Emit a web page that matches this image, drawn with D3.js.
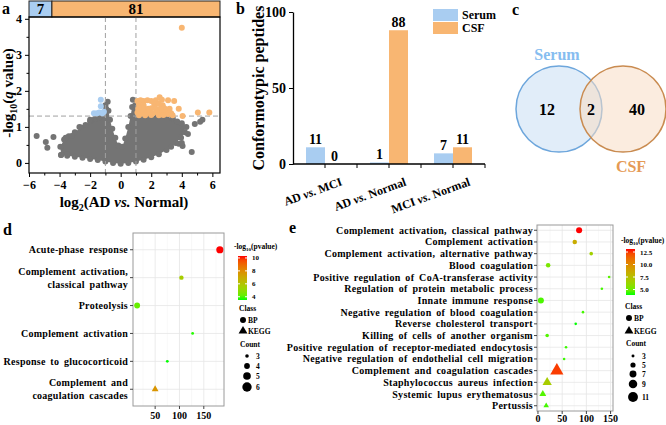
<!DOCTYPE html>
<html>
<head>
<meta charset="utf-8">
<script src="https://cdn.jsdelivr.net/npm/d3@7"></script>
<style>
body { margin: 0; background: #fff; }
svg { display: block; font-family: "Liberation Serif", "Times New Roman", serif; font-weight: bold; }
</style>
</head>
<body>
<script>
// ---------- panel a : volcano ----------
const volcCounts = [7, 81];
const volcSplit = -4.5;
// outline of the dense gray cloud of non-significant peptides
const cloudOutline = [
  [-3.9,0.22],[-3.95,0.45],[-3.7,0.65],[-3.4,0.74],[-3.0,0.85],[-2.6,0.98],[-2.3,1.05],[-2.0,1.15],
  [-1.7,1.22],[-1.4,1.27],[-1.15,1.33],[-0.95,1.5],[-0.8,1.45],[-0.7,1.2],[-0.55,0.95],[-0.35,0.7],
  [-0.15,0.48],[0.1,0.45],[0.3,0.68],[0.5,1.0],[0.65,1.3],[0.75,1.55],[0.95,1.6],[1.2,1.3],[1.8,1.3],
  [2.4,1.3],[3.0,1.28],[3.4,1.22],[3.7,1.15],[4.1,1.0],[4.2,0.85],[3.95,0.7],[3.6,0.55],[3.3,0.45],
  [3.0,0.36],[2.5,0.24],[2.0,0.16],[1.5,0.09],[1.0,0.04],[0.5,0.0],[0.0,-0.02],[-0.5,0.0],[-1.0,0.04],
  [-1.5,0.08],[-2.0,0.11],[-2.5,0.14],[-3.0,0.17],[-3.5,0.2]
];
const grayPts = [
  [-5.5,0.75],[-4.9,0.58],[-4.8,0.42],[-4.4,0.72],[-3.9,0.22],[-3.6,0.7],[-3.5,0.25],[-3.2,0.75],
  [-0.85,1.7],[-1.0,1.6],[0.8,1.75],[3.4,1.25],[4.0,1.1],[4.3,1.0],[4.85,1.08],[5.2,1.14],[5.35,1.2],
  [3.8,0.53],[4.05,0.47],[4.65,0.3],[4.0,0.55],[4.4,0.8],[-2.0,1.2],[-2.7,1.0]
];
const bluePts = [[-1.3,1.75],[-1.3,1.57],[-1.75,1.38],[-1.55,1.38],[-1.4,1.4],[-1.2,1.38],[-1.1,1.42]];
const orangePts = [
  [1.1,1.72],[1.3,1.74],[1.5,1.72],[1.75,1.74],[2.0,1.72],[2.3,1.74],[2.55,1.82],[2.7,1.75],[3.1,1.74],[3.5,1.72],
  [1.2,1.62],[1.5,1.6],[2.2,1.62],[2.5,1.64],[2.75,1.6],
  [1.15,1.5],[1.35,1.52],[1.55,1.5],[1.8,1.5],[2.0,1.52],[2.3,1.5],[2.6,1.5],[2.85,1.52],[3.0,1.48],[3.2,1.5],[3.8,1.5],
  [1.1,1.4],[1.3,1.38],[1.5,1.42],[1.7,1.38],[1.9,1.4],[2.1,1.38],[2.4,1.4],[2.7,1.38],[2.9,1.4],[3.1,1.36],[3.3,1.38],
  [1.2,1.32],[1.6,1.32],[2.0,1.33],[2.5,1.32],[2.8,1.33],[3.4,1.32],
  [4.05,1.3],[5.05,1.4],[5.8,1.4],[4.0,3.75]
];
const volcXTicks = [-6,-4,-2,0,2,4,6];
const volcYTicks = [0,1,2,3,4];

// ---------- panel b : bars ----------
const comparisons = ["AD vs. MCI", "AD vs. Normal", "MCI vs. Normal"];
const serumPeptides = [11, 1, 7];
const csfPeptides = [0, 88, 11];
const fluids = ["Serum", "CSF"];
const barYTicks = [0, 50, 100];

// ---------- panel c : venn ----------
const vennSets = ["Serum", "CSF"];
const vennOnly = [12, 40];
const vennShared = 2;

// ---------- panel d : enrichment ----------
const dTerms = ["Acute-phase response", "Complement activation,\nclassical pathway", "Proteolysis",
  "Complement activation", "Response to glucocorticoid", "Complement and\ncoagulation cascades"];
const dX = [183, 104, 13, 127, 75, 50];
const dP = [10.3, 5.6, 4.2, 3.6, 3.5, 7.7];
const dCount = [6, 4, 5, 3, 3, 4];
const dClass = ["BP", "BP", "BP", "BP", "BP", "KEGG"];
const dCountLegend = [3, 4, 5, 6];
const dColorTicks = [4, 6, 8, 10];

// ---------- panel e : enrichment ----------
const eTerms = ["Complement activation, classical pathway", "Complement activation",
  "Complement activation, alternative pathway", "Blood coagulation",
  "Positive regulation of CoA-transferase activity", "Regulation of protein metabolic process",
  "Innate immune response", "Negative regulation of blood coagulation", "Reverse cholesterol transport",
  "Killing of cells of another organism", "Positive regulation of receptor-mediated endocytosis",
  "Negative regulation of endothelial cell migration", "Complement and coagulation cascades",
  "Staphylococcus aureus infection", "Systemic lupus erythematosus", "Pertussis"];
const eX = [85, 76, 110, 21, 147, 132, 6, 93, 78, 19, 58, 54, 39, 19, 10, 17];
const eP = [13.1, 8.5, 6.6, 5.3, 4.6, 4.3, 4.4, 4.3, 3.9, 4.5, 4.2, 4.2, 12.5, 6.8, 4.5, 4.3];
const eCount = [7, 5, 4, 5, 3, 3, 7, 3, 3, 4, 3, 3, 11, 7, 5, 4];
const eClass = ["BP","BP","BP","BP","BP","BP","BP","BP","BP","BP","BP","BP","KEGG","KEGG","KEGG","KEGG"];
const eCountLegend = [3, 5, 7, 9, 11];
const eColorTicks = [5, 7.5, 10, 12.5];

const blue = "#a9cdf1", orange = "#f8b672", gray = "#747474";
const serif = '"Liberation Serif", "Times New Roman", serif';

const svg = d3.select("body").append("svg").attr("width", 666).attr("height", 425);
svg.append("rect").attr("width", 666).attr("height", 425).attr("fill", "#fff");

function letter(t, x, y) {
  svg.append("text").attr("x", x).attr("y", y).attr("font-size", 16).text(t);
}
// text with italic "vs." pieces
function vsText(sel, label) {
  const parts = label.split(" vs. ");
  sel.append("tspan").text(parts[0] + " ");
  sel.append("tspan").attr("font-style", "italic").text("vs.");
  sel.append("tspan").text(" " + parts[1]);
}
function styleAxis(g, size) {
  g.attr("font-family", serif).attr("font-size", size).attr("font-weight", "bold");
  g.selectAll("text").attr("fill", "#000");
}

// ================= panel a =================
{
  const x = d3.scaleLinear().domain([-6, 6.5]).range([29, 220]);
  const y = d3.scaleLinear().domain([-0.28, 4.05]).range([173, 17]);
  const g = svg.append("g");

  // count strip on top
  const strip = [[-6, volcSplit, volcCounts[0], blue], [volcSplit, 6.5, volcCounts[1], orange]];
  g.selectAll(".strip").data(strip).join("rect")
    .attr("x", d => x(d[0])).attr("y", 1).attr("width", d => x(d[1]) - x(d[0])).attr("height", 16)
    .attr("fill", d => d[3]).attr("stroke", "#222").attr("stroke-width", 1);
  g.selectAll(".stripT").data(strip).join("text")
    .attr("x", d => (x(d[0]) + x(d[1])) / 2).attr("y", 14).attr("text-anchor", "middle")
    .attr("font-size", 15).text(d => d[2]);

  // cloud
  g.append("path").datum(cloudOutline)
    .attr("d", d3.line().x(d => x(d[0])).y(d => y(d[1])).curve(d3.curveLinearClosed))
    .attr("fill", gray);
  g.selectAll(".cp").data(cloudOutline.concat(grayPts)).join("circle")
    .attr("cx", d => x(d[0])).attr("cy", d => y(d[1])).attr("r", 3).attr("fill", gray);

  // thresholds
  [-1, 1].forEach(v => g.append("line").attr("x1", x(v)).attr("x2", x(v)).attr("y1", y(4.05)).attr("y2", y(-0.28))
    .attr("stroke", "#a0a0a0").attr("stroke-dasharray", "5,3"));
  g.append("line").attr("x1", x(-6)).attr("x2", x(6.5)).attr("y1", y(1.3)).attr("y2", y(1.3))
    .attr("stroke", "#a0a0a0").attr("stroke-dasharray", "5,3");

  g.selectAll(".bp").data(bluePts).join("circle")
    .attr("cx", d => x(d[0])).attr("cy", d => y(d[1])).attr("r", 3).attr("fill", blue);
  g.selectAll(".op").data(orangePts).join("circle")
    .attr("cx", d => x(d[0])).attr("cy", d => y(d[1])).attr("r", 3).attr("fill", orange);

  // frame and axes
  g.append("rect").attr("x", 29).attr("y", 17).attr("width", 191).attr("height", 156)
    .attr("fill", "none").attr("stroke", "#000").attr("stroke-width", 1.2);
  const ax = g.append("g").attr("transform", "translate(0,173)")
    .call(d3.axisBottom(x).tickValues(volcXTicks).tickSize(4).tickSizeOuter(0).tickFormat(d3.format("d")));
  ax.select(".domain").remove();
  styleAxis(ax, 12);
  g.append("g").attr("transform", "translate(0,173)")
    .call(d3.axisBottom(x).tickValues([-5,-3,-1,1,3,5]).tickSize(2.5).tickFormat(""))
    .select(".domain").remove();
  const ay = g.append("g").attr("transform", "translate(29,0)")
    .call(d3.axisLeft(y).tickValues(volcYTicks).tickSize(4).tickFormat(d3.format("d")));
  ay.select(".domain").remove();
  styleAxis(ay, 12);
  g.append("g").attr("transform", "translate(29,0)")
    .call(d3.axisLeft(y).tickValues([0.5,1.5,2.5,3.5]).tickSize(2.5).tickFormat(""))
    .select(".domain").remove();

  const xl = g.append("text").attr("x", 124).attr("y", 207).attr("text-anchor", "middle").attr("font-size", 15);
  xl.append("tspan").text("log");
  xl.append("tspan").attr("font-size", 10).attr("dy", 4).text("2");
  xl.append("tspan").attr("dy", -4).text("(AD ");
  xl.append("tspan").attr("font-style", "italic").text("vs.");
  xl.append("tspan").text(" Normal)");

  const yl = g.append("text").attr("transform", "translate(13,93) rotate(-90)").attr("text-anchor", "middle").attr("font-size", 15);
  yl.append("tspan").text("-log");
  yl.append("tspan").attr("font-size", 10).attr("dy", 4).text("10");
  yl.append("tspan").attr("dy", -4).text("(");
  yl.append("tspan").attr("font-style", "italic").text("q");
  yl.append("tspan").text(" value)");
  letter("a", 2, 14);
}

// ================= panel b =================
{
  const x = d3.scaleBand().domain(comparisons).range([293, 485]);
  const xs = d3.scaleBand().domain(fluids).range([x.bandwidth() / 2 - 19, x.bandwidth() / 2 + 19]);
  const y = d3.scaleLinear().domain([0, 100]).range([164, 12]);
  const colors = d3.scaleOrdinal().domain(fluids).range([blue, orange]);
  const rows = comparisons.map((c, i) => ({ c, vals: [["Serum", serumPeptides[i]], ["CSF", csfPeptides[i]]] }));
  const g = svg.append("g");

  const grp = g.selectAll(".grp").data(rows).join("g").attr("transform", d => `translate(${x(d.c)},0)`);
  grp.selectAll("rect").data(d => d.vals).join("rect")
    .attr("x", d => xs(d[0])).attr("width", xs.bandwidth())
    .attr("y", d => y(d[1])).attr("height", d => y(0) - y(d[1])).attr("fill", d => colors(d[0]));
  grp.selectAll("text").data(d => d.vals).join("text")
    .attr("x", d => xs(d[0]) + xs.bandwidth() / 2).attr("y", d => y(d[1]) - 3)
    .attr("text-anchor", "middle").attr("font-size", 14).text(d => d[1]);

  const ay = g.append("g").attr("transform", "translate(293,0)")
    .call(d3.axisLeft(y).tickValues(barYTicks).tickSize(4).tickSizeOuter(0));
  styleAxis(ay, 14);
  ay.select(".domain").attr("stroke-width", 1.3);
  g.append("line").attr("x1", 293).attr("x2", 485).attr("y1", 164).attr("y2", 164).attr("stroke", "#000").attr("stroke-width", 1.3);
  const tickPos = [];
  comparisons.forEach(c => { tickPos.push(x(c) + x.bandwidth() / 2, x(c) + x.bandwidth()); });
  g.selectAll(".bt").data(tickPos).join("line")
    .attr("x1", d => d).attr("x2", d => d).attr("y1", 164).attr("y2", 168).attr("stroke", "#000");
  g.selectAll(".bl").data(comparisons).join("text")
    .attr("transform", d => `translate(${x(d) + x.bandwidth() / 2 + 18},185) rotate(-20)`)
    .attr("text-anchor", "end").attr("font-size", 12)
    .each(function(d) { vsText(d3.select(this), d); });

  g.append("text").attr("transform", "translate(264,88) rotate(-90)").attr("text-anchor", "middle")
    .attr("font-size", 16).text("Conformotypic peptides");

  // legend
  const lg = g.selectAll(".lg").data(fluids).join("g").attr("transform", (d, i) => `translate(433,${9 + i * 13})`);
  lg.append("rect").attr("width", 25).attr("height", 12).attr("fill", d => colors(d));
  lg.append("text").attr("x", 29).attr("y", 10).attr("font-size", 12).text(d => d);
  letter("b", 236, 14);
}

// ================= panel c =================
{
  const cx = d3.scalePoint().domain(vennSets).range([559, 623]);
  const r = 43, cy = 109;
  const fills = ["#c9def4", "#f8dcc4"], strokes = ["#6da6dc", "#c98b50"], textCol = ["#86bdf0", "#e59a55"];
  const g = svg.append("g");
  g.selectAll("circle").data(vennSets).join("circle")
    .attr("cx", d => cx(d)).attr("cy", cy).attr("r", r)
    .attr("fill", (d, i) => fills[i]).attr("fill-opacity", 0.55)
    .attr("stroke", (d, i) => strokes[i]).attr("stroke-width", 1.5);
  g.selectAll(".vn").data(vennSets).join("text")
    .attr("x", (d, i) => cx(d) + (i ? 14 : -12)).attr("y", cy + 6).attr("text-anchor", "middle")
    .attr("font-size", 16).text((d, i) => vennOnly[i]);
  g.append("text").attr("x", (cx("Serum") + cx("CSF")) / 2).attr("y", cy + 6).attr("text-anchor", "middle")
    .attr("font-size", 16).text(vennShared);
  g.selectAll(".vl").data(vennSets).join("text")
    .attr("x", (d, i) => cx(d) + (i ? 8 : -2)).attr("y", (d, i) => i ? cy + 63 : cy - 49)
    .attr("text-anchor", "middle").attr("font-size", 16).attr("fill", (d, i) => textCol[i]).text(d => d);
  letter("c", 512, 15);
}

// ================= panels d / e =================
const colLow = "#00ff00", colHigh = "#ff0000";
let gradId = 0;
function dotPanel(c) {
  const g = svg.append("g");
  const x = d3.scaleLinear().domain(c.xDomain).range([c.x0, c.x1]);
  const y = d3.scalePoint().domain(c.terms).range([c.y0, c.y1]).padding(c.pad);
  const pExt = d3.extent(c.ps);
  const col = d3.scaleLinear().domain(pExt).range([colLow, colHigh]).interpolate(d3.interpolateLab);
  const rs = d3.scaleSqrt().domain(c.countDomain).range(c.rRange);

  // panel grid
  g.append("rect").attr("x", c.x0).attr("y", c.y0).attr("width", c.x1 - c.x0).attr("height", c.y1 - c.y0).attr("fill", "#fff");
  g.selectAll(".mg").data(c.minor).join("line")
    .attr("x1", d => x(d)).attr("x2", d => x(d)).attr("y1", c.y0).attr("y2", c.y1).attr("stroke", "#f3f3f3").attr("stroke-width", 0.6);
  g.selectAll(".vg").data(c.xTicks).join("line")
    .attr("x1", d => x(d)).attr("x2", d => x(d)).attr("y1", c.y0).attr("y2", c.y1).attr("stroke", "#e6e6e6").attr("stroke-width", 0.8);
  g.selectAll(".hg").data(c.terms).join("line")
    .attr("x1", c.x0).attr("x2", c.x1).attr("y1", d => y(d)).attr("y2", d => y(d)).attr("stroke", "#e6e6e6").attr("stroke-width", 0.8);

  const pts = c.terms.map((t, i) => ({ t, x: c.xs[i], p: c.ps[i], n: c.counts[i], k: c.classes[i] }));
  g.selectAll(".pt").data(pts).join("path")
    .attr("transform", d => `translate(${x(d.x)},${y(d.t)})`)
    .attr("d", d => d.k === "BP"
      ? d3.symbol(d3.symbolCircle, Math.PI * rs(d.n) ** 2)()
      : d3.symbol(d3.symbolTriangle, Math.PI * rs(d.n) ** 2 * 1.3)())
    .attr("fill", d => col(d.p));

  g.append("rect").attr("x", c.x0).attr("y", c.y0).attr("width", c.x1 - c.x0).attr("height", c.y1 - c.y0)
    .attr("fill", "none").attr("stroke", "#9a9a9a").attr("stroke-width", 1);

  // axes
  g.selectAll(".yt").data(c.terms).join("line")
    .attr("x1", c.x0 - 3).attr("x2", c.x0).attr("y1", d => y(d)).attr("y2", d => y(d)).attr("stroke", "#444");
  g.selectAll(".xt").data(c.xTicks).join("line")
    .attr("x1", d => x(d)).attr("x2", d => x(d)).attr("y1", c.y1).attr("y2", c.y1 + 3).attr("stroke", "#444");
  g.selectAll(".xl").data(c.xTicks).join("text")
    .attr("x", d => x(d)).attr("y", c.y1 + c.tickDy).attr("text-anchor", "middle").attr("font-size", c.tickFont).text(d => d);
  g.selectAll(".yl").data(c.terms).join("text")
    .attr("x", c.x0 - c.labelGap).attr("text-anchor", "end").attr("font-size", c.labelFont)
    .attr("letter-spacing", c.letterSpacing).attr("word-spacing", c.wordSpacing)
    .each(function(d) {
      const lines = d.split("\n");
      const el = d3.select(this);
      lines.forEach((ln, j) => el.append("tspan").attr("x", c.x0 - c.labelGap)
        .attr("y", y(d) + (j - (lines.length - 1) / 2) * c.lineH + c.labelFont * 0.35).text(ln));
    });

  // colour bar legend
  const L = c.legend;
  const ly = d3.scaleLinear().domain(pExt).range([L.barBottom, L.barTop]);
  const id = "grad" + (gradId++);
  const grad = svg.append("defs").append("linearGradient").attr("id", id)
    .attr("x1", 0).attr("x2", 0).attr("y1", 1).attr("y2", 0);
  d3.range(0, 1.001, 0.1).forEach(t => grad.append("stop").attr("offset", t)
    .attr("stop-color", col(pExt[0] + t * (pExt[1] - pExt[0]))));
  const tt = g.append("text").attr("x", L.titleX).attr("y", L.titleY).attr("font-size", 7.5);
  tt.append("tspan").text("-log");
  tt.append("tspan").attr("font-size", 5).attr("dy", 2).text("10");
  tt.append("tspan").attr("dy", -2).text("(pvalue)");
  g.append("rect").attr("x", L.barX).attr("y", L.barTop).attr("width", 9).attr("height", L.barBottom - L.barTop)
    .attr("fill", `url(#${id})`);
  g.selectAll(".ct").data(c.colorTicks).join("text")
    .attr("x", L.barX + 14).attr("y", d => ly(d) + 2.5).attr("font-size", 7).text(d => c.colorFmt(d));
  g.selectAll(".ctk").data(c.colorTicks).join("line")
    .attr("x1", L.barX).attr("x2", L.barX + 2).attr("y1", d => ly(d)).attr("y2", d => ly(d)).attr("stroke", "#fff");
  g.selectAll(".ctk2").data(c.colorTicks).join("line")
    .attr("x1", L.barX + 7).attr("x2", L.barX + 9).attr("y1", d => ly(d)).attr("y2", d => ly(d)).attr("stroke", "#fff");

  // class legend
  g.append("text").attr("x", L.classX).attr("y", L.classY).attr("font-size", 7.5).text("Class");
  const cls = ["BP", "KEGG"];
  const cg = g.selectAll(".cl").data(cls).join("g")
    .attr("transform", (d, i) => `translate(${L.classX + 4},${L.classY + 9 + i * L.classGap})`);
  cg.append("path").attr("d", d => d === "BP" ? d3.symbol(d3.symbolCircle, 28)() : d3.symbol(d3.symbolTriangle, 34)())
    .attr("fill", "#000");
  cg.append("text").attr("x", 5).attr("y", 2.5).attr("font-size", 7.5).text(d => d);

  // count legend
  g.append("text").attr("x", L.countX).attr("y", L.countY).attr("font-size", 7.5).text("Count");
  const cnt = g.selectAll(".cn").data(c.countLegend).join("g")
    .attr("transform", (d, i) => `translate(${L.countX + 7},${L.countRows[i]})`);
  cnt.append("circle").attr("r", d => rs(d) * L.legendScale).attr("fill", "#000");
  cnt.append("text").attr("x", 9).attr("y", 2.5).attr("font-size", 7.5).text(d => d);
}

dotPanel({
  terms: dTerms, xs: dX, ps: dP, counts: dCount, classes: dClass,
  x0: 133, x1: 224, y0: 233, y1: 406, pad: 0.6, xDomain: [4.5, 191.5], xTicks: [50, 100, 150], minor: [25, 75, 125, 175],
  countDomain: [3, 6], rRange: [1.4, 3.6], tickFont: 10, tickDy: 13, labelFont: 10, lineH: 13,
  labelGap: 5, letterSpacing: 0.25, wordSpacing: 2,
  colorTicks: dColorTicks, colorFmt: d => d, countLegend: dCountLegend,
  legend: { titleX: 234, titleY: 249, barX: 238, barTop: 256, barBottom: 300,
    classX: 239, classY: 311, classGap: 11, countX: 240, countY: 347, countRows: [356, 366, 376, 387], legendScale: 1.3 }
});
dotPanel({
  terms: eTerms, xs: eX, ps: eP, counts: eCount, classes: eClass,
  x0: 537, x1: 613, y0: 225, y1: 411, pad: 0.45, xDomain: [-2, 155], xTicks: [0, 50, 100, 150], minor: [25, 75, 125],
  countDomain: [3, 11], rRange: [1.3, 4.3], tickFont: 10, tickDy: 10.5, labelFont: 10, lineH: 11,
  labelGap: 4, letterSpacing: 0.3, wordSpacing: 2,
  colorTicks: eColorTicks, colorFmt: d3.format(".1f"), countLegend: eCountLegend,
  legend: { titleX: 621, titleY: 243, barX: 626, barTop: 249, barBottom: 295,
    classX: 625, classY: 309, classGap: 13, countX: 626, countY: 346, countRows: [356, 365, 374, 384, 397], legendScale: 1.15 }
});
letter("d", 3, 235);
letter("e", 289, 233);
</script>
</body>
</html>
